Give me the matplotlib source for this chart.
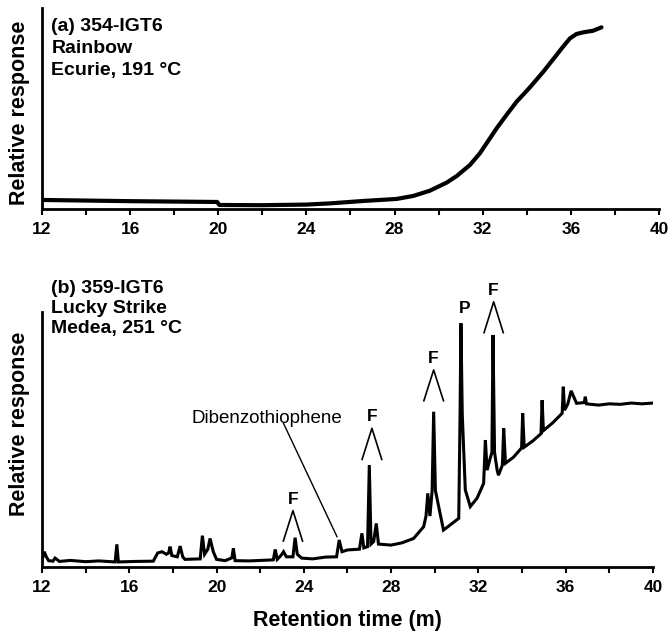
import matplotlib
matplotlib.use("Agg")
import matplotlib.pyplot as plt

plt.rcParams["font.family"] = ["Liberation Sans", "DejaVu Sans"]

# (a) 354-IGT6 trace
a_time = [12.0, 14.0, 16.0, 18.0, 19.95, 20.05, 22.0, 24.0, 25.07, 26.58, 28.09, 28.85,
          29.6, 30.36, 30.82, 31.42, 31.87, 32.33, 32.63, 33.08, 33.54, 34.14, 34.75,
          35.35, 35.65, 35.96, 36.26, 36.56, 37.01, 37.39]
a_resp = [4.5, 4.2, 3.9, 3.7, 3.5, 2.0, 1.9, 2.2, 2.8, 4.0, 5.0, 6.5,
          9.1, 13.1, 16.4, 21.9, 27.7, 35.2, 40.1, 46.8, 53.4, 60.5, 68.3,
          76.6, 80.8, 84.9, 87.1, 87.9, 88.7, 90.4]

# (b) 359-IGT6 trace
b_time = [12.0, 12.1, 12.2, 12.3, 12.5, 12.6, 12.8, 13.3, 14.0, 14.6, 15.35, 15.43,
          15.5, 16.3, 17.1, 17.3, 17.5, 17.7, 17.8, 17.87, 17.95, 18.2, 18.33, 18.45,
          18.55, 19.25, 19.35, 19.45, 19.6, 19.7, 19.85, 20.0, 20.4, 20.7, 20.77,
          20.85, 21.5, 22.6, 22.69, 22.78, 22.95, 23.07, 23.2, 23.5, 23.6, 23.7,
          23.9, 24.4, 25.0, 25.5, 25.62, 25.75, 26.0, 26.55, 26.66, 26.75, 26.92,
          27.0, 27.08, 27.2, 27.32, 27.42, 28.0, 28.5, 29.03, 29.49, 29.6, 29.68,
          29.78, 29.88, 29.95, 30.03, 30.18, 30.4, 30.6, 31.1, 31.16, 31.2, 31.26,
          31.4, 31.63, 31.94, 32.24, 32.32, 32.4, 32.52, 32.62, 32.67, 32.74, 32.86,
          32.92, 33.1, 33.16, 33.24, 33.6, 33.98, 34.03, 34.1, 34.5, 34.87, 34.92,
          34.98, 35.4, 35.84, 35.89, 35.95, 36.1, 36.25, 36.5, 36.85, 36.9, 36.95,
          37.5, 38.0, 38.5, 39.0, 39.5, 40.0]
b_resp = [2.5, 6.0, 4.0, 2.5, 2.3, 3.5, 2.2, 2.6, 2.1, 2.4, 2.0, 8.9,
          2.0, 2.2, 2.3, 5.5, 6.0, 5.0, 5.5, 8.0, 4.5, 4.0, 8.2, 4.0,
          3.0, 3.2, 12.3, 5.0, 7.0, 11.2, 6.0, 3.0, 2.5, 3.6, 7.3,
          2.5, 2.4, 2.8, 6.9, 3.0, 4.5, 6.0, 4.0, 4.0, 11.5, 5.0,
          3.5, 3.2, 3.9, 4.0, 10.6, 6.0, 6.7, 7.0, 13.2, 7.5, 8.0,
          40.0, 9.0, 10.0, 17.1, 9.0, 8.6, 9.5, 11.2, 15.8, 20.0, 28.9,
          20.0, 30.0, 60.9, 30.0, 23.7, 14.5, 15.8, 19.1, 60.0, 95.6, 60.0,
          30.2, 23.7, 27.0, 32.8, 49.8, 38.0, 42.0, 45.0, 91.0, 45.0, 38.0,
          36.0, 40.0, 54.4, 40.7, 43.0, 46.7, 60.3, 47.0, 49.5, 52.3, 65.4,
          53.5, 56.5, 60.3, 70.7, 61.5, 64.0, 69.1, 64.2, 64.5, 66.8, 64.0,
          63.5, 64.0, 63.8, 64.3, 64.0, 64.3]

# peak markers in (b): label position, caret apex, caret foot, caret half-width
f_labels = ["F", "F", "F", "F"]
f_text_x = [23.5, 27.12, 29.95, 32.7]
f_text_y = [26.3, 59.0, 81.8, 108.6]
f_apex_y = [22.1, 54.4, 77.3, 104.0]
f_foot_y = [10.2, 42.2, 65.2, 91.9]
f_half = [0.44, 0.45, 0.45, 0.44]

fig = plt.figure(figsize=(6.69, 6.32), dpi=100)
ax1 = fig.add_axes([0.0628, 0.6693, 0.9222, 0.318])
ax2 = fig.add_axes([0.0628, 0.1028, 0.9132, 0.4035])

for ax in (ax1, ax2):
    for s in ("top", "right"):
        ax.spines[s].set_visible(False)
    for s in ("left", "bottom"):
        ax.spines[s].set_linewidth(2)
    ax.set_xlim(12, 40)
    ax.set_ylim(0, 100)
    ax.set_yticks([])
    ax.set_xticks(range(12, 41, 2))
    ax.set_xticklabels([str(t) if t % 4 == 0 else "" for t in range(12, 41, 2)])
    ax.tick_params(axis="x", direction="out", length=4, width=1.5, pad=5,
                   labelsize=12.5)
    for lb in ax.get_xticklabels():
        lb.set_fontweight("bold")
    ax.set_ylabel("Relative response", fontsize=15.5, fontweight="bold")

ax1.yaxis.set_label_coords(-0.02, 0.48)
ax2.yaxis.set_label_coords(-0.02, 0.56)

ax1.plot(a_time, a_resp, color="black", lw=3, solid_capstyle="round")
ax2.plot(b_time, b_resp, color="black", lw=2.2, solid_joinstyle="miter")

ax1.text(0.015, 0.95, "(a) 354-IGT6\nRainbow\nEcurie, 191 °C", transform=ax1.transAxes,
         ha="left", va="top", fontsize=14, fontweight="bold", linespacing=1.4)
ax2.text(0.015, 1.125, "(b) 359-IGT6\nLucky Strike\nMedea, 251 °C", transform=ax2.transAxes,
         ha="left", va="top", fontsize=14, fontweight="bold", linespacing=1.22)

for lab, tx, ty, ay, fy, hw in zip(f_labels, f_text_x, f_text_y, f_apex_y, f_foot_y, f_half):
    ax2.plot([tx - hw, tx, tx + hw], [fy, ay, fy], color="black", lw=1.2, clip_on=False)
    ax2.text(tx, ty, lab, ha="center", va="center", fontsize=12.5, fontweight="bold",
             clip_on=False)

ax2.text(31.36, 101.4, "P", ha="center", va="center", fontsize=12.5, fontweight="bold",
         clip_on=False)
ax2.text(22.3, 58.3, "Dibenzothiophene", ha="center", va="center", fontsize=13.5)
ax2.plot([23.07, 25.52], [56.3, 11.9], color="black", lw=1)

ax2.set_xlabel("Retention time (m)", fontsize=15.5, fontweight="bold", labelpad=11)

fig.savefig("out.png", dpi=100)
